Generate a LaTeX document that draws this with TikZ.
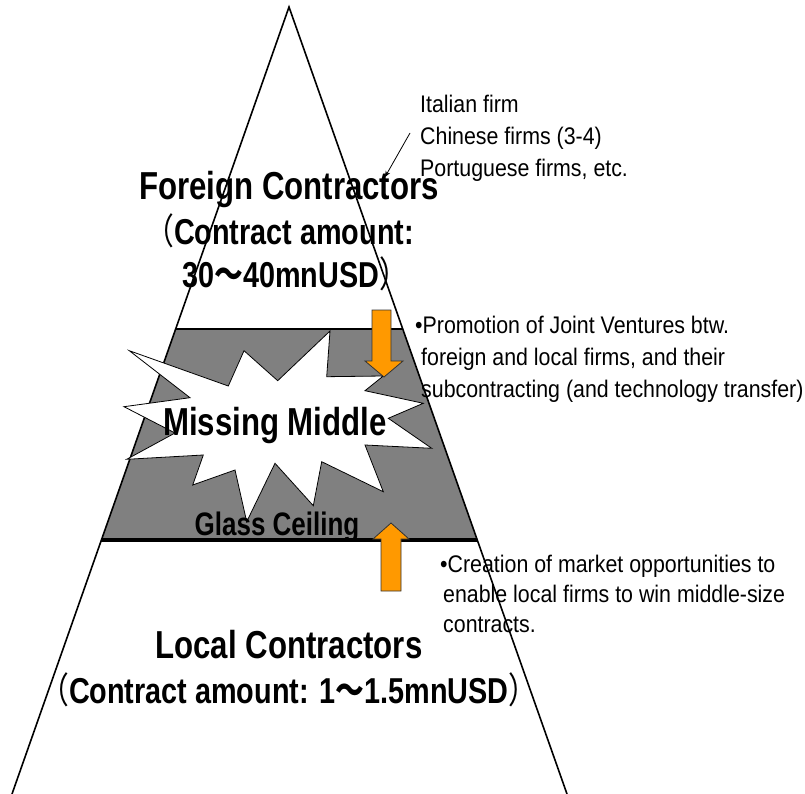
\documentclass[tikz,border=0pt]{standalone}
\usepackage{fontspec}
\setmainfont{Liberation Sans}[FakeStretch=0.89]
\newfontfamily\headfont{Liberation Sans}[FakeStretch=0.8]
\newfontfamily\cjk{Noto Sans CJK JP}[FakeStretch=0.8]
\usetikzlibrary{positioning, arrows.meta, calc}

\definecolor{ceilgray}{RGB}{128,128,128}
\definecolor{pushorange}{RGB}{255,153,0}

\begin{document}
\begin{tikzpicture}[
            x=1pt, y=-1pt,
            title/.style = {font=\headfont\bfseries\fontsize{39}{42}\selectfont, inner sep=0pt, anchor=base},
            subtitle/.style = {font=\headfont\bfseries\fontsize{36}{40}\selectfont, inner sep=0pt, anchor=base west},
            note/.style = {font=\fontsize{24}{32}\selectfont, align=left, inner sep=0pt, anchor=north west},
            edge/.style = {draw, line width=1.6pt},
            blockarrow/.style = {draw=black!80, line width=0.8pt, fill=pushorange},
            pointer/.style = {draw, line width=0.8pt, -{Stealth[length=6pt, width=5pt]}},
            ]
            \useasboundingbox (0,0) rectangle (805,794);

            % pyramid and the middle band
            \coordinate (apex) at (289,7);
            \coordinate (bl) at (12,794);
            \coordinate (br) at (567,794);
            \coordinate (ml) at ($(apex)!0.4091!(bl)$);
            \coordinate (mr) at ($(apex)!0.4091!(br)$);
            \coordinate (gl) at ($(apex)!0.6773!(bl)$);
            \coordinate (gr) at ($(apex)!0.6773!(br)$);

            \fill[ceilgray] (ml) -- (mr) -- (gr) -- (gl) -- cycle;
            \draw[edge] (bl) -- (apex) -- (br);
            \draw[line width=1.2pt] (ml) -- (mr);
            \draw[line width=4pt] (gl) -- (gr);

            % burst
            \draw[fill=white, line width=0.8pt] (129.3,350.7) -- (228.3,386) -- (244,350.7)
                -- (277.7,380.7) -- (330,331) -- (326.7,376.7) -- (383.3,376) -- (365,390.7)
                -- (423.3,403.3) -- (388.3,418.3) -- (431.7,448.3) -- (365,445) -- (383.3,491.7)
                -- (321.7,461.7) -- (313.3,505.7) -- (275,463.3) -- (246.7,521.7) -- (235,470)
                -- (192.7,485) -- (203.3,455) -- (126.7,459.3) -- (175,433) -- (124,406.7)
                -- (190,397.7) -- cycle;

            % block arrows
            \draw[blockarrow] (372,310) -- (391,310) -- (391,361) -- (403,361) -- (384,377)
                -- (365,361) -- (372,361) -- cycle;
            \draw[blockarrow] (381,591) -- (401,591) -- (401,539) -- (409,539) -- (391,523)
                -- (373,539) -- (381,539) -- cycle;

            % labels
            \node[title] (foreign) at (289,200) {Foreign Contractors};
            \node[subtitle] (foreignamt) at (145,244) {{\cjk\mdseries （}Contract amount:};
            \node[subtitle] (foreignusd) at (182,287) {30{\cjk ～}40mnUSD{\cjk\mdseries ）}};
            \node[title] (missing) at (275,435) {Missing Middle};
            \node[title, font=\headfont\bfseries\fontsize{32.5}{36}\selectfont] (ceiling) at (277,535) {Glass Ceiling};
            \node[title] (local) at (289,658) {Local Contractors};
            \node[subtitle] (localamt) at (40,703) {{\cjk\mdseries （}Contract amount: 1{\cjk ～}1.5mnUSD{\cjk\mdseries ）}};

            \node[note] (firms) at (420,95) {Italian firm\\Chinese firms (3-4)\\Portuguese firms, etc.};
            \node[note] (venture) at (415,316) {•Promotion of Joint Ventures btw.\\\hspace*{6pt}foreign and local firms, and their\\\hspace*{6pt}subcontracting (and technology transfer)};
            \node[note, font=\fontsize{24}{30}\selectfont] (market) at (440,555) {•Creation of market opportunities to\\\hspace*{3pt}enable local firms to win middle-size\\\hspace*{3pt}contracts.};

            \coordinate (ptrfrom) at (410,133);
            \coordinate (ptrto) at (385,177);
            \draw[pointer] (ptrfrom) -- (ptrto);
        \end{tikzpicture}
\end{document}
